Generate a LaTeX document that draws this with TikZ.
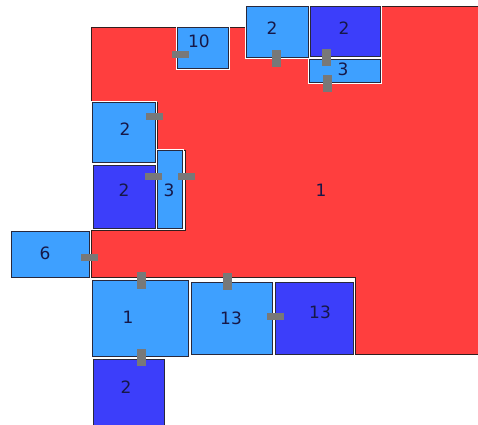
\documentclass[tikz,border=0pt]{standalone}
\usepackage{fontspec}
\setmainfont{DejaVu Sans}
\definecolor{zone}{RGB}{255,62,62}
\definecolor{lblue}{RGB}{62,160,255}
\definecolor{dblue}{RGB}{60,62,250}
\definecolor{joint}{RGB}{120,120,120}
\definecolor{ink}{RGB}{22,24,72}
\begin{document}
\begin{tikzpicture}[x=1pt, y=-1pt,
    room/.style={draw={rgb,255:red,40;green,40;blue,60}, line width=.8pt,
        preaction={draw=white, line width=3pt}},
    lroom/.style={room, fill=lblue},
    droom/.style={room, fill=dblue},
    num/.style={text=ink, font=\fontsize{17}{19}\selectfont, inner sep=0pt}]
\useasboundingbox (0,0) rectangle (478,424);
% big zone
\draw[fill=zone, draw={rgb,255:red,50;green,30;blue,30}, line width=.8pt]
    (91,27)--(247,27)--(247,57)--(308,57)--(308,82)--(380,82)--(380,6)--(478,6)
    --(478,354)--(355,354)--(355,277)--(91,277)--(91,230)--(185,230)--(185,150)
    --(157,150)--(157,102)--(91,102)--cycle;
% rooms
\draw[lroom](177,27) rectangle (228,68);
\draw[lroom](246,6) rectangle (308,57);
\draw[droom](310,6) rectangle (380,56);
\draw[lroom](309,59) rectangle (380,82);
\draw[lroom](92,102) rectangle (155,162);
\draw[droom](93,165) rectangle (155,228);
\draw[lroom](157,150) rectangle (182,228);
\draw[lroom](11,231) rectangle (89,277);
\draw[lroom](92,280) rectangle (188,356);
\draw[lroom](191,282) rectangle (272,354);
\draw[droom](275,282) rectangle (353,354);
\draw[droom](93,359) rectangle (164,426);
% joints
\foreach \x/\y in {180/54, 154/116, 153/176, 186/176, 89/257, 275/316}
{
    \fill[joint](\x-8.5,\y-3.5) rectangle (\x+8.5,\y+3.5);
}
\foreach \x/\y in {276/58, 326/57, 327/83, 141/280, 227/281, 141/357}
{
    \fill[joint](\x-4.5,\y-8.5) rectangle (\x+4.5,\y+8.5);
}
% labels
\node[num] (t10) at (199,41) {10};
\node[num] (t2a) at (272,28) {2};
\node[num] (t2b) at (344,28) {2};
\node[num] (t3a) at (343,69) {3};
\node[num] (t2c) at (125,129) {2};
\node[num] (t2d) at (124,190) {2};
\node[num] (t3b) at (169,190) {3};
\node[num] (t1a) at (321,190) {1};
\node[num] (t6) at (45,253) {6};
\node[num] (t1b) at (128,317) {1};
\node[num] (t13a) at (231,318) {13};
\node[num] (t13b) at (320,312) {13};
\node[num] (t2e) at (126,387) {2};
\end{tikzpicture}
\end{document}
